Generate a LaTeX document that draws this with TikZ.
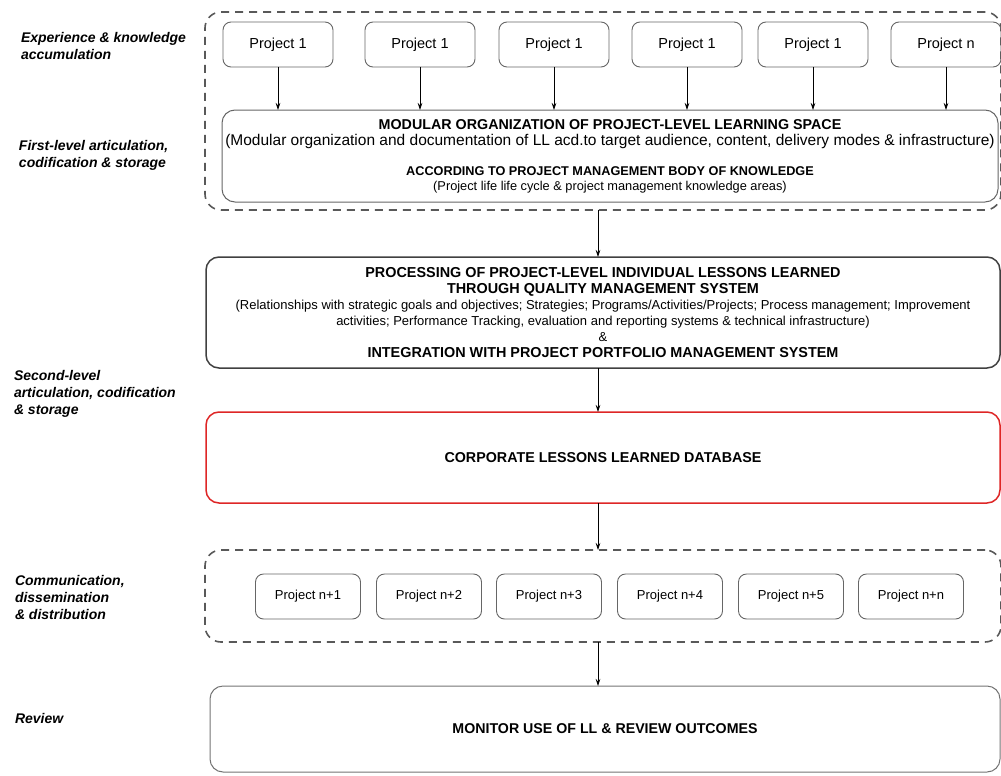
\documentclass[tikz,border=0pt]{standalone}
\usepackage{fontspec}
\setmainfont{Liberation Sans}
\usetikzlibrary{arrows.meta}
\definecolor{dbred}{RGB}{222,38,38}

\begin{document}
\begin{tikzpicture}[x=1pt,y=-1pt]
  \tikzset{every node/.style={inner sep=0pt,outer sep=0pt}}
  \tikzset{stagelabel/.style={anchor=west,align=left,font=\fontsize{14}{17}\selectfont\bfseries\itshape}}
  \tikzset{projbox/.style={draw=black!60,line width=0.9pt,rounded corners=8pt,minimum height=45pt}}
  \tikzset{groupbox/.style={draw=black!65,line width=1.6pt,dash pattern=on 8pt off 6pt,rounded corners=16pt}}
  \tikzset{bigbox/.style={draw=black!60,line width=1pt,rounded corners=13pt,align=center}}
  \tikzset{flow/.style={-{Stealth[length=7pt,width=4.5pt]},line width=0.7pt}}
  \useasboundingbox (0,0) rectangle (1001,776);

  % stage labels on the left
  \node[stagelabel] (lexp) at (21,46) {Experience \& knowledge\\accumulation};
  \node[stagelabel] (lfirst) at (19,155) {First-level articulation,\\codification \& storage};
  \node[stagelabel] (lsecond) at (14,394) {Second-level\\articulation, codification\\\& storage};
  \node[stagelabel] (lcomm) at (15,597) {Communication,\\dissemination\\\& distribution};
  \node[stagelabel] (lrev) at (15,718) {Review};

  % first level
  \node[groupbox,minimum width=796pt,minimum height=198pt] (topgroup) at (603,111) {};
  \foreach \x/\t [count=\i] in {278/1,420/1,554/1,687/1,813/1,946/n}
    \node[projbox,minimum width=110pt,font=\fontsize{14.5}{16}\selectfont] (p\i) at (\x,44.5) {Project \t};
  \node[bigbox,minimum width=776pt,minimum height=92pt,font=\fontsize{14}{16}\selectfont] (module) at (610,156) {%
    \raisebox{-2pt}{\fontsize{14.3}{16}\selectfont\bfseries MODULAR ORGANIZATION OF PROJECT-LEVEL LEARNING SPACE}\\[2pt]
    \fontsize{15.5}{16}\selectfont (Modular organization and documentation of LL acd.to target audience, content, delivery modes \& infrastructure)\\[14pt]
    \fontsize{12.7}{16}\selectfont\bfseries ACCORDING TO PROJECT MANAGEMENT BODY OF KNOWLEDGE\\[-1pt]
    \fontsize{12.8}{16}\selectfont (Project life life cycle \& project management knowledge areas)};
  \foreach \i in {1,...,6}
    \draw[flow] (p\i) -- (p\i |- module.north);

  % second level
  \node[bigbox,draw=black!75,line width=1.5pt,minimum width=794pt,minimum height=111pt,font=\fontsize{13}{16}\selectfont] (process) at (603,312.5) {%
    \fontsize{14.4}{16}\selectfont\bfseries PROCESSING OF PROJECT-LEVEL INDIVIDUAL LESSONS LEARNED\\
    \fontsize{14.4}{16}\selectfont\bfseries THROUGH QUALITY MANAGEMENT SYSTEM\\
    \fontsize{13}{16}\selectfont (Relationships with strategic goals and objectives; Strategies; Programs/Activities/Projects; Process management; Improvement\\
    \fontsize{13}{16}\selectfont activities; Performance Tracking, evaluation and reporting systems \& technical infrastructure)\\
    \fontsize{13}{16}\selectfont \&\\
    \fontsize{14.4}{16}\selectfont\bfseries INTEGRATION WITH PROJECT PORTFOLIO MANAGEMENT SYSTEM};
  \node[bigbox,draw=dbred,line width=1.5pt,minimum width=794pt,minimum height=91pt,font=\fontsize{14.3}{16}\selectfont\bfseries] (database) at (603,457.5) {CORPORATE LESSONS LEARNED DATABASE};

  % communication
  \node[groupbox,minimum width=796pt,minimum height=92pt] (botgroup) at (603,596) {};
  \foreach \x/\t [count=\i] in {308/n+1,429/n+2,549/n+3,670/n+4,791/n+5,911/n+n}
    \node[projbox,minimum width=105pt,font=\fontsize{13}{16}\selectfont] (q\i) at (\x,596.5) {Project \t};

  % review
  \node[bigbox,draw=black!55,minimum width=790pt,minimum height=86pt,font=\fontsize{14.2}{16}\selectfont\bfseries] (review) at (605,729) {MONITOR USE OF LL \& REVIEW OUTCOMES};

  \draw[flow] (topgroup.south -| 598,0) -- (process.north -| 598,0);
  \draw[flow] (process.south -| 598,0) -- (database.north -| 598,0);
  \draw[flow] (database.south -| 598,0) -- (botgroup.north -| 598,0);
  \draw[flow] (botgroup.south -| 598,0) -- (review.north -| 598,0);
\end{tikzpicture}
\end{document}
